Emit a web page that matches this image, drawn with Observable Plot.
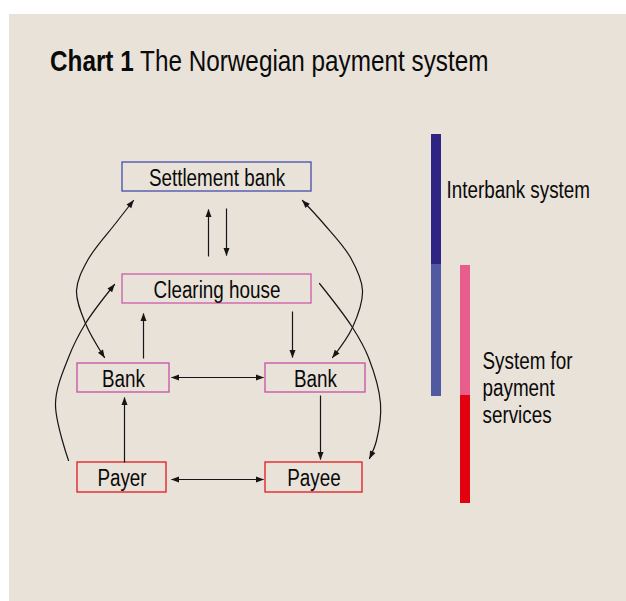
<!DOCTYPE html>
<html><head><meta charset="utf-8">
<script src="https://cdn.jsdelivr.net/npm/d3@7"></script>
<script src="https://cdn.jsdelivr.net/npm/@observablehq/plot@0.6"></script>
<style>
html,body{margin:0;padding:0;background:#fff;}
#wrap{position:relative;width:626px;height:601px;overflow:hidden;}
#panel{position:absolute;left:9px;top:14px;width:617px;height:587px;background:#e9e2d9;}
#title{position:absolute;left:50px;top:46px;font-family:'Liberation Sans',Arial,sans-serif;font-size:30px;line-height:30px;color:#0a0a0a;white-space:nowrap;transform:scaleX(0.81);transform-origin:0 0;}
#chart{position:absolute;left:0;top:0;}
</style></head>
<body><div id="wrap"><div id="panel"></div><div id="title"><b>Chart 1</b> The Norwegian payment system</div><div id="chart"></div></div>
<script>
const FONT = "'Liberation Sans',Arial,sans-serif";
const NARROW = 0.82;

// Boxes (diagram units)
const boxLabels = ["Settlement bank", "Clearing house", "Bank", "Bank", "Payer", "Payee"];
const boxX1 = [122, 122, 77, 265, 77, 265];
const boxX2 = [311, 311, 169, 365, 166, 362];
const boxY1 = [162, 274, 363, 363, 462, 462];
const boxY2 = [191, 303, 392, 392, 492, 492];
const boxColors = ["#5058ae", "#cc66ad", "#c95aa9", "#c95aa9", "#e3262b", "#e3262b"];

// Straight arrows
const arrowX1 = [208, 226, 143, 292, 171, 171, 124, 320];
const arrowY1 = [256, 208, 358, 311, 377, 479, 462, 395];
const arrowX2 = [208, 226, 143, 292, 263, 263, 124, 320];
const arrowY2 = [209, 255, 313, 357, 377, 479, 397, 459];
const arrowBoth = [false, false, false, false, true, true, false, false];

// Curved arrows
const curveId = ["c1","c1","c1","c1","c1","c1",
                 "c2","c2","c2","c2","c2",
                 "c3","c3","c3","c3","c3","c3",
                 "c4","c4","c4","c4","c4","c4"];
const curveX = [104, 85, 76, 87, 115, 133,
                68, 55, 68, 85, 114,
                332, 352, 362, 350, 323, 302,
                319, 352, 368, 380, 376, 369];
const curveY = [357, 323, 290, 260, 223, 200,
                460, 403, 357, 323, 284,
                357, 327, 290, 257, 223, 200,
                283, 327, 357, 403, 440, 458];
const curveBoth = {c1: true, c2: false, c3: true, c4: false};

// Side bars
const barX1 = [431, 431, 460, 460];
const barX2 = [441, 441, 470, 470];
const barY1 = [134, 264, 265, 395];
const barY2 = [264, 396, 395, 503];
const barColors = ["#2e2484", "#5159a2", "#e85d8c", "#e3000f"];

const sideLabels = ["Interbank system", "System for\npayment\nservices"];
const sideX = [446, 482];
const sideY = [190, 349];
const sideAnchor = ["middle", "top"];

const boxes = boxLabels.map((label, i) => ({label, x1: boxX1[i], x2: boxX2[i], y1: boxY1[i], y2: boxY2[i], color: boxColors[i]}));
const arrows = arrowX1.map((x1, i) => ({x1, y1: arrowY1[i], x2: arrowX2[i], y2: arrowY2[i], both: arrowBoth[i]}));
const curvePts = curveId.map((id, i) => ({id, x: curveX[i], y: curveY[i]}));
const bars = barX1.map((x1, i) => ({x1, x2: barX2[i], y1: barY1[i], y2: barY2[i], color: barColors[i]}));
const sides = sideLabels.map((t, i) => ({t, x: sideX[i], y: sideY[i], a: sideAnchor[i]}));

const LINE = "#151515";
const TXT = "#0a0a0a";

const chart = Plot.plot({
  width: 626, height: 601,
  marginTop: 0, marginRight: 0, marginBottom: 0, marginLeft: 0,
  x: {domain: [0, 626], range: [0, 626], axis: null},
  y: {domain: [0, 601], range: [0, 601], axis: null},
  color: {type: "identity"},
  style: {background: "transparent", fontFamily: FONT, overflow: "visible"},
  marks: [
    Plot.rect(bars, {x1: "x1", x2: "x2", y1: "y1", y2: "y2", fill: "color"}),
    Plot.rect(boxes, {x1: "x1", x2: "x2", y1: "y1", y2: "y2", fill: "none", stroke: "color", strokeWidth: 1.4}),
    Plot.text(boxes, {x: d => (d.x1 + d.x2) / 2, y: d => (d.y1 + d.y2) / 2 + 1.5, text: "label", fontSize: 23, fill: TXT}),
    Plot.link(arrows.filter(d => !d.both), {x1: "x1", y1: "y1", x2: "x2", y2: "y2", stroke: LINE, strokeWidth: 1.2, markerEnd: "arrow"}),
    Plot.link(arrows.filter(d => d.both), {x1: "x1", y1: "y1", x2: "x2", y2: "y2", stroke: LINE, strokeWidth: 1.2, markerStart: "arrow", markerEnd: "arrow"}),
    Plot.line(curvePts.filter(d => curveBoth[d.id]), {x: "x", y: "y", z: "id", curve: "catmull-rom", stroke: LINE, strokeWidth: 1.2, markerStart: "arrow", markerEnd: "arrow"}),
    Plot.line(curvePts.filter(d => !curveBoth[d.id]), {x: "x", y: "y", z: "id", curve: "catmull-rom", stroke: LINE, strokeWidth: 1.2, markerEnd: "arrow"}),
    Plot.text(sides.filter(d => d.a === "middle"), {x: "x", y: "y", text: "t", textAnchor: "start", lineAnchor: "middle", fontSize: 23, fill: TXT}),
    Plot.text(sides.filter(d => d.a === "top"), {x: "x", y: "y", text: "t", textAnchor: "start", lineAnchor: "top", lineHeight: 1.18, fontSize: 23, fill: TXT})
  ]
});

// filled arrowheads, reversed at path starts
d3.select(chart).selectAll("marker").each(function() {
  const m = d3.select(this);
  const c = m.attr("stroke") || LINE;
  m.attr("viewBox", "-8 -4 9 8").attr("markerWidth", 9).attr("markerHeight", 8)
   .attr("markerUnits", "userSpaceOnUse").attr("orient", "auto-start-reverse")
   .attr("fill", c).attr("stroke", "none");
  m.select("path").attr("d", "M-7.5,-3L0.5,0L-7.5,3Z");
});

// narrow (Arial Narrow–like) text: horizontal scale about each text's anchor
d3.select(chart).selectAll("text").each(function() {
  const t = d3.select(this);
  const tr = t.attr("transform") || "";
  t.attr("transform", (tr + ` scale(${NARROW},1)`).trim());
});

document.getElementById("chart").appendChild(chart);
</script>
</body></html>
